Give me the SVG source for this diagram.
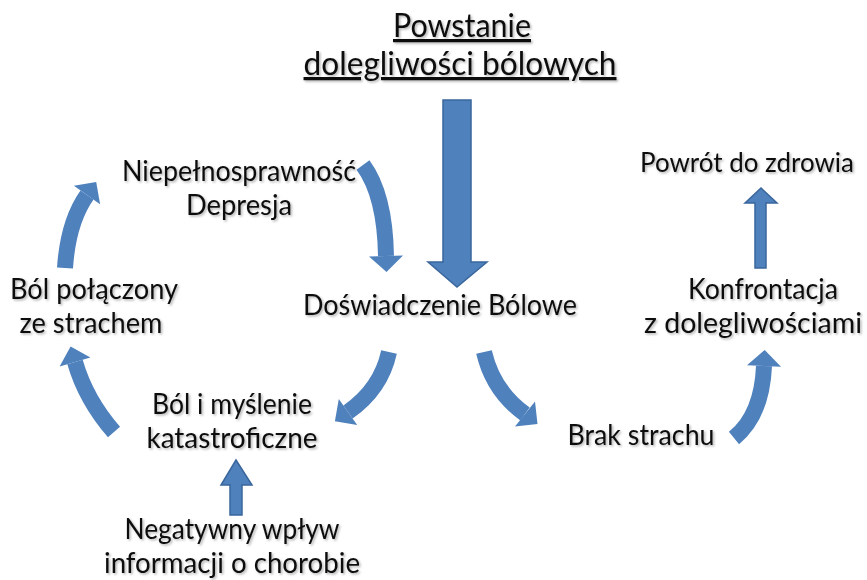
<svg xmlns="http://www.w3.org/2000/svg" width="867" height="580" viewBox="0 0 867 580">
<style>
.t{font-family:Lato,"Open Sans","DejaVu Sans",sans-serif;font-size:28.5px;fill:#111;text-anchor:middle}
.ti{font-size:32px;text-decoration:underline}
.sh{fill:none;stroke:#4f81bd;stroke-width:16;stroke-linecap:butt}
.hd{fill:#4f81bd}
.st{fill:#4f81bd;stroke:#3a669c;stroke-width:1.5}
</style>
<defs>
<filter id="ds" x="-20%" y="-50%" width="140%" height="200%">
<feDropShadow dx="1.5" dy="1.5" stdDeviation="1" flood-color="#000" flood-opacity="0.3"/>
</filter>
</defs>
<rect width="867" height="580" fill="#fff"/>
<g id="connectors">
<path class="st" d="M443,100 H471 V262 H487 L457,287 L428,262 H443 Z"/>
<path class="st" d="M755,268 V203 H745 L761,188 L777,203 H766 V268 Z"/>
<path class="st" d="M230,515 V485 H221 L236,460 L252,485 H242 V515 Z"/>
<path class="sh" d="M65,268 Q68,222 87,195"/>
<polygon class="hd" points="96.2,181.9 100.1,204.2 73.9,185.8"/>
<path class="sh" d="M363,165 Q385,195 386,256"/>
<polygon class="hd" points="386.5,272 403,255.5 369,256.5"/>
<path class="sh" d="M114,432 Q86,400 75,362"/>
<polygon class="hd" points="70.6,346.6 90.4,357.6 59.6,366.4"/>
<path class="sh" d="M389,352 Q381,389 348,412"/>
<polygon class="hd" points="334.9,421.2 357.2,425.1 338.8,398.9"/>
<path class="sh" d="M484,352 Q493,391 525,414"/>
<polygon class="hd" points="537.5,424 515,426.5 535,401.5"/>
<path class="sh" d="M734,438 Q762,415 764,366"/>
<polygon class="hd" points="764.7,350 781,366.7 747,365.3"/>
</g>
<g id="title" filter="url(#ds)">
<text class="t ti" x="462" y="37" textLength="138" lengthAdjust="spacingAndGlyphs">Powstanie</text>
<text class="t ti" x="460" y="75" textLength="313" lengthAdjust="spacingAndGlyphs">dolegliwości  bólowych</text>
</g>
<g id="niepelnosprawnosc" filter="url(#ds)">
<text class="t" x="239" y="181" textLength="234" lengthAdjust="spacingAndGlyphs">Niepełnosprawność</text>
<text class="t" x="239" y="215" textLength="106" lengthAdjust="spacingAndGlyphs">Depresja</text>
</g>
<g id="powrot" filter="url(#ds)">
<text class="t" x="747" y="172" style="font-size:27px" textLength="214" lengthAdjust="spacingAndGlyphs">Powrót do zdrowia</text>
</g>
<g id="bol-strach" filter="url(#ds)">
<text class="t" x="94" y="299" textLength="168" lengthAdjust="spacingAndGlyphs">Ból połączony</text>
<text class="t" x="91" y="333" textLength="143" lengthAdjust="spacingAndGlyphs">ze strachem</text>
</g>
<g id="doswiadczenie" filter="url(#ds)">
<text class="t" x="440" y="315" textLength="274" lengthAdjust="spacingAndGlyphs">Doświadczenie Bólowe</text>
</g>
<g id="konfrontacja" filter="url(#ds)">
<text class="t" x="763" y="299" textLength="150" lengthAdjust="spacingAndGlyphs">Konfrontacja</text>
<text class="t" x="753" y="333" textLength="218" lengthAdjust="spacingAndGlyphs">z dolegliwościami</text>
</g>
<g id="bol-myslenie" filter="url(#ds)">
<text class="t" x="232" y="414" textLength="160" lengthAdjust="spacingAndGlyphs">Ból i myślenie</text>
<text class="t" x="232" y="448" textLength="171" lengthAdjust="spacingAndGlyphs">katastroficzne</text>
</g>
<g id="brak-strachu" filter="url(#ds)">
<text class="t" x="641" y="445" textLength="147" lengthAdjust="spacingAndGlyphs">Brak strachu</text>
</g>
<g id="negatywny" filter="url(#ds)">
<text class="t" x="232" y="539" textLength="215" lengthAdjust="spacingAndGlyphs">Negatywny wpływ</text>
<text class="t" x="232" y="573" textLength="256" lengthAdjust="spacingAndGlyphs">informacji o chorobie</text>
</g>
</svg>
